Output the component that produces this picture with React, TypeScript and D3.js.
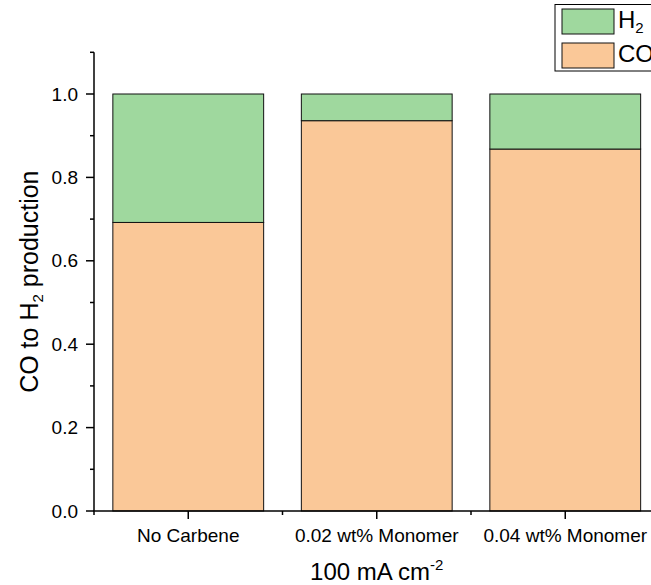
import React from "react";
import * as d3 from "d3";

const categories = ["No Carbene", "0.02 wt% Monomer", "0.04 wt% Monomer"];
const coValues = [0.692, 0.936, 0.868];
const h2Values = [0.308, 0.064, 0.132];
const yMajorTicks = [0, 0.2, 0.4, 0.6, 0.8, 1.0];
const yMinorTicks = [0.1, 0.3, 0.5, 0.7, 0.9, 1.1];
const seriesNames = ["H", "CO"];

const W = 651;
const H = 585;
const FONT = "'Liberation Sans', Arial, sans-serif";
const GREEN = "#9FD89E";
const ORANGE = "#FAC898";

export default function App() {
  const x0 = 94;
  const x1 = 659.5;
  const yBottom = 511;
  const y = d3.scaleLinear().domain([0, 1.1]).range([yBottom, yBottom - 417 * 1.1]);
  const x = d3.scaleLinear().domain([0.5, 3.5]).range([x0, x1]);
  const step = x(2) - x(1);
  const bw = step * 0.8;

  const stacks = categories.map((c, i) => ({
    c,
    i,
    co: coValues[i],
    h2: h2Values[i],
  }));

  const xMinor = [0.5, 1.5, 2.5, 3.5];

  return (
    <svg
      width={W}
      height={H}
      style={{ position: "absolute", left: 0, top: 0, background: "#fff" }}
      fontFamily={FONT}
    >
      <rect x={0} y={0} width={W} height={H} fill="#fff" />
      {stacks.map((s) => {
        const cx = x(s.i + 1);
        return (
          <g key={s.c}>
            <rect
              x={cx - bw / 2}
              y={y(s.co)}
              width={bw}
              height={y(0) - y(s.co)}
              fill={ORANGE}
              stroke="#111"
              strokeWidth={1}
            />
            <rect
              x={cx - bw / 2}
              y={y(s.co + s.h2)}
              width={bw}
              height={y(s.co) - y(s.co + s.h2)}
              fill={GREEN}
              stroke="#111"
              strokeWidth={1}
            />
          </g>
        );
      })}

      {/* Y axis */}
      <line x1={x0} x2={x0} y1={y(1.1)} y2={y(0)} stroke="#000" strokeWidth={1.5} />
      {yMajorTicks.map((t) => (
        <g key={"ym" + t}>
          <line x1={x0 - 8} x2={x0} y1={y(t)} y2={y(t)} stroke="#000" strokeWidth={1.5} />
          <text
            x={x0 - 16}
            y={y(t)}
            dy="0.35em"
            textAnchor="end"
            fontSize={19}
            fill="#000"
          >
            {d3.format(".1f")(t)}
          </text>
        </g>
      ))}
      {yMinorTicks.map((t) => (
        <line key={"yn" + t} x1={x0 - 4} x2={x0} y1={y(t)} y2={y(t)} stroke="#000" strokeWidth={1.5} />
      ))}

      {/* X axis */}
      <line x1={x0 - 0.75} x2={x1} y1={y(0)} y2={y(0)} stroke="#000" strokeWidth={1.5} />
      {categories.map((c, i) => (
        <g key={"xm" + c}>
          <line x1={x(i + 1)} x2={x(i + 1)} y1={y(0)} y2={y(0) + 8} stroke="#000" strokeWidth={1.5} />
          <text x={x(i + 1)} y={542} textAnchor="middle" fontSize={19} fill="#000">
            {c}
          </text>
        </g>
      ))}
      {xMinor.map((t) => (
        <line key={"xn" + t} x1={x(t)} x2={x(t)} y1={y(0)} y2={y(0) + 4} stroke="#000" strokeWidth={1.5} />
      ))}

      {/* Axis titles */}
      <text x={(x0 + x1) / 2} y={580} textAnchor="middle" fontSize={24} fill="#000">
        100 mA cm
        <tspan fontSize={15} dy={-10}>
          -2
        </tspan>
      </text>
      <text
        transform={`translate(38, ${(y(0) + y(1.1)) / 2}) rotate(-90)`}
        textAnchor="middle"
        fontSize={25}
        fill="#000"
      >
        CO to H
        <tspan fontSize={15} dy={5}>
          2
        </tspan>
        <tspan dy={-5}> production</tspan>
      </text>

      {/* Legend */}
      <rect x={555} y={4.5} width={120} height={66.5} fill="#fff" stroke="#000" strokeWidth={1} />
      {seriesNames.map((n, i) => (
        <g key={n}>
          <rect
            x={562}
            y={9 + i * 34}
            width={52}
            height={25}
            fill={i === 0 ? GREEN : ORANGE}
            stroke="#111"
            strokeWidth={1}
          />
          <text x={618} y={28 + i * 34} fontSize={24} fill="#000">
            {n}
            {i === 0 ? (
              <tspan fontSize={15} dy={5}>
                2
              </tspan>
            ) : null}
          </text>
        </g>
      ))}
    </svg>
  );
}
